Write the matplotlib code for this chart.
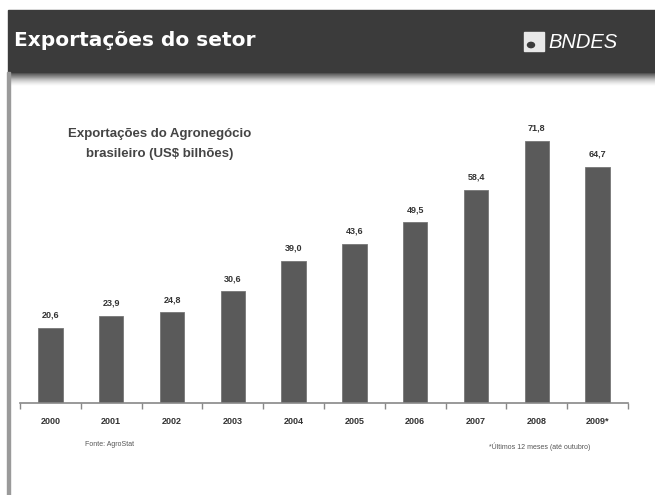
import matplotlib.pyplot as plt
import numpy as np
from matplotlib.patches import Rectangle, Circle

# Exportações do agronegócio brasileiro, US$ bilhões
years = ["2000", "2001", "2002", "2003", "2004",
         "2005", "2006", "2007", "2008", "2009*"]
exports = [20.6, 23.9, 24.8, 30.6, 39.0, 43.6, 49.5, 58.4, 71.8, 64.7]

W, H = 655, 495
fig = plt.figure(figsize=(W / 100, H / 100), dpi=100)
fig.patch.set_facecolor("white")


def fx(px):
    return px / W


def fy(py):
    return 1 - py / H


# dark header band
fig.patches.append(Rectangle((fx(8), fy(72)), 1 - fx(8), fy(10) - fy(72),
                             transform=fig.transFigure, color="#3b3b3b",
                             zorder=0))
# soft shadow below the header
grad_ax = fig.add_axes([fx(8), fy(86), 1 - fx(8), fy(72) - fy(86)])
grad = np.linspace(0, 1, 50).reshape(-1, 1)
grad_ax.imshow(grad, aspect="auto", cmap="Greys_r", vmin=-0.25, vmax=1.0,
               extent=[0, 1, 0, 1])
grad_ax.axis("off")

# left border of the slide
fig.patches.append(Rectangle((fx(7), 0), fx(3), fy(72),
                             transform=fig.transFigure, color="#9a9a9a",
                             zorder=0))

fig.text(fx(14), fy(41), "Exportações do setor", color="white",
         fontsize=14.5, fontweight="bold", va="center", ha="left",
         family="DejaVu Sans")

# logo
fig.patches.append(Rectangle((fx(524), fy(51)), fx(20), fy(32) - fy(51),
                             transform=fig.transFigure, color="#e8e8e8",
                             zorder=2))
fig.patches.append(Circle((fx(531), fy(45)), fx(3.5),
                          transform=fig.transFigure, color="#3b3b3b",
                          zorder=3))
fig.text(fx(548), fy(42), "BNDES", color="white", fontsize=14.5,
         style="italic", va="center", ha="left", family="Liberation Sans")

# bar chart
ax = fig.add_axes([fx(20), fy(403), fx(628) - fx(20), fy(100) - fy(403)])
x = np.arange(len(years))
ax.bar(x, exports, width=0.4, color="#5a5a5a", edgecolor="#777777",
       linewidth=0.6, zorder=2)
for xi, v in zip(x, exports):
    ax.text(xi, v + 2.2, f"{v:.1f}".replace(".", ","), ha="center",
            va="bottom", fontsize=6.5, fontweight="bold", color="#333333",
            family="Liberation Sans")

ax.set_xlim(-0.5, len(years) - 0.5)
ax.set_ylim(0, 83)
for side in ("top", "right", "left"):
    ax.spines[side].set_visible(False)
ax.spines["bottom"].set_color("#888888")
ax.spines["bottom"].set_linewidth(1.2)
ax.set_yticks([])
ax.set_xticks(np.arange(-0.5, len(years)), minor=False)
ax.set_xticklabels([])
ax.tick_params(axis="x", length=4, color="#888888", width=1)
ax.set_xticks(x, minor=True)
ax.set_xticklabels(years, minor=True, fontsize=6.5, fontweight="bold",
                   color="#333333", family="Liberation Sans")
ax.tick_params(axis="x", which="minor", length=0, pad=10)

fig.text(fx(160), fy(144), "Exportações do Agronegócio\nbrasileiro (US$ bilhões)",
         ha="center", va="center", fontsize=9.5, fontweight="bold",
         color="#444444", family="Liberation Sans", linespacing=1.85)

fig.text(fx(85), fy(445), "Fonte: AgroStat", fontsize=5, color="#555555",
         ha="left", va="center", family="Liberation Sans")
fig.text(fx(540), fy(447), "*Últimos 12 meses (até outubro)", fontsize=5,
         color="#555555", ha="center", va="center",
         family="Liberation Sans")

fig.savefig("out.png", dpi=100)
